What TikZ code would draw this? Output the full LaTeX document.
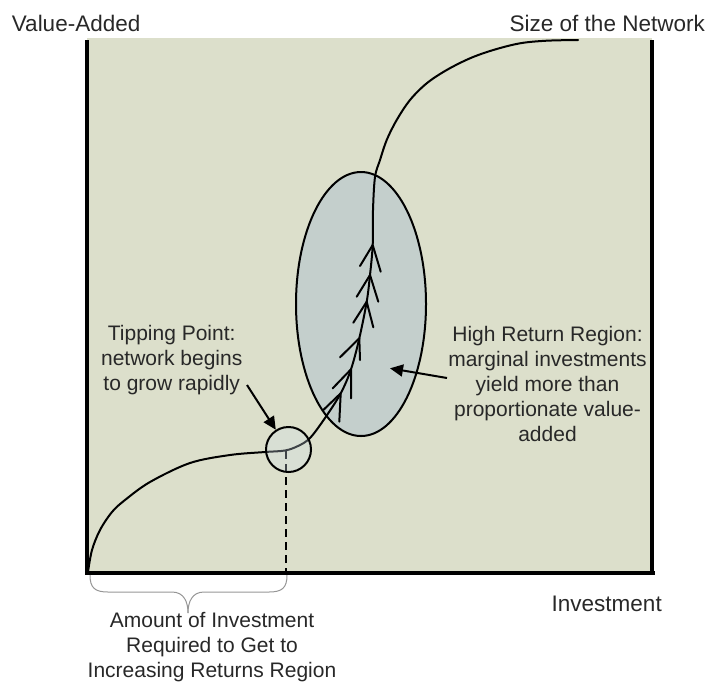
\documentclass[tikz,border=0pt]{standalone}
\usepackage{fontspec}
\setmainfont{Liberation Sans}
\usetikzlibrary{arrows.meta,shapes.geometric}
\definecolor{bgfill}{RGB}{220,223,203}
\definecolor{hrfill}{RGB}{196,207,204}
\definecolor{tpfill}{RGB}{207,223,236}
\definecolor{txt}{RGB}{40,40,40}
\definecolor{bracecol}{RGB}{150,150,150}
\tikzset{
  axislabel/.style={inner sep=0pt,text=txt,font=\fontsize{22.5}{26}\selectfont},
  notelabel/.style={inner sep=0pt,text=txt,align=center,font=\fontsize{21}{25}\selectfont},
  axisline/.style={line width=4pt},
  curveline/.style={line width=2pt,line cap=round,line join=round},
  chevron/.style={line width=2pt,line cap=round,line join=round},
  pointer/.style={line width=2pt,-{Triangle[length=13pt,width=12pt]}},
}
\begin{document}
\begin{tikzpicture}[x=1pt,y=-1pt]
\useasboundingbox (0,0) rectangle (708,681);
% background panel
\fill[bgfill] (87,37.5) rectangle (652,572);
% high return region
\node[ellipse,draw,line width=2pt,fill=hrfill,minimum width=130pt,minimum height=264pt,inner sep=0pt] (hr) at (361,304) {};
% S-curve
\draw[curveline] plot[smooth,tension=0.55] coordinates{
 (88,572) (92,550) (100,530) (112,512) (125,500) (150,482) (190,463) (230,455) (265,452) (285,450.5) (298,446) (310,438) (325,418) (340.7,393.3) (351,369.3) (359.3,338.3) (366.7,301.7) (370,275) (372.7,245) (373,210) (375,177) (380,160) (386.7,140) (396.7,120) (410,100) (426.7,83.3) (446.7,70) (470,58.3) (493.3,50) (520,43.3) (546.7,40.7) (578,40)};
% chevrons along curve
\draw[chevron] (360,266) -- (372.7,245) -- (380.7,271.7);
\draw[chevron] (356.7,296.7) -- (370,275) -- (378.3,301.7);
\draw[chevron] (353.3,322.7) -- (366.7,301.7) -- (373.3,327.3);
\draw[chevron] (340,357.3) -- (359.3,338.3) -- (360,360);
\draw[chevron] (332.7,388.3) -- (351,369.3) -- (351,398.3);
\draw[chevron] (323.3,410) -- (340.7,393.3) -- (339.3,421.7);
% dashed drop line
\coordinate (dropbot) at (286,571);
\coordinate (droptop) at (286,451);
\draw[line width=2pt,dash pattern=on 8pt off 5pt] (droptop) -- (dropbot);
% tipping point circle
\node[circle,draw,line width=2pt,fill=tpfill,fill opacity=0.3,draw opacity=1,minimum size=45pt,inner sep=0pt] (tp) at (288.5,449.5) {};
% axes
\draw[axisline] (87,40) -- (87,572.5);
\draw[axisline] (652,40) -- (652,572.5);
\draw[axisline] (85,572.5) -- (655,572.5);
% brace
\draw[bracecol,line width=1pt] (90,575) .. controls (90,588) and (95,592) .. (108,592) -- (172,592) .. controls (184,592) and (188,602) .. (188,613);
\draw[bracecol,line width=1pt] (287,575) .. controls (287,588) and (282,592) .. (269,592) -- (204,592) .. controls (192,592) and (188,602) .. (188,613);
% labels
\node[axislabel,anchor=base west] (lva) at (11.7,31) {Value-Added};
\node[axislabel,anchor=base east] (lsize) at (705,31.5) {Size of the Network};
\node[axislabel,anchor=base west] (linv) at (551.5,611.7) {Investment};
\node[notelabel,anchor=base] (ltip) at (171.7,390) {Tipping Point:\\network begins\\to grow rapidly};
\node[notelabel,anchor=base] (lhigh) at (547.5,441) {High Return Region:\\marginal investments\\yield more than\\proportionate value-\\added};
\node[notelabel,anchor=base] (lamount) at (212,677.5) {Amount of Investment\\Required to Get to\\Increasing Returns Region};
% pointers
\coordinate (tipfrom) at (247,385);
\coordinate (highfrom) at (447,378);
\coordinate (hrpt) at (390,368.3);
\draw[pointer] (tipfrom) -- (tp);
\draw[pointer] (highfrom) -- (hrpt);
\end{tikzpicture}
\end{document}
